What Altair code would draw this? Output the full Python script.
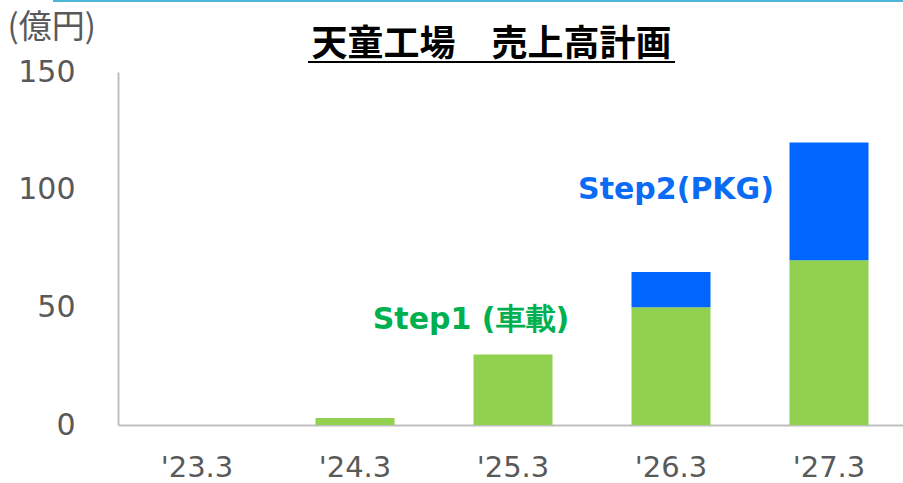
import altair as alt
import pandas as pd

years = ["'23.3", "'24.3", "'25.3", "'26.3", "'27.3"]
step1 = [0, 3, 30, 50, 70]
step2 = [0, 0, 0, 15, 50]
series_names = ["Step1", "Step2"]
series_colors = ["#92D050", "#0066FF"]

ann_text = ["Step1 (車載)", "Step2(PKG)"]
ann_year = ["'25.3", "'26.3"]
ann_value = [44.6, 100]
ann_color = ["#00B050", "#0A6CF5"]

title_text = "天童工場　売上高計画"
unit_text = "(億円)"

rows = []
for i, y in enumerate(years):
    rows.append({"year": y, "series": "Step1", "value": step1[i], "ord": 0})
    rows.append({"year": y, "series": "Step2", "value": step2[i], "ord": 1})
df = pd.DataFrame(rows)

ann = pd.DataFrame({"text": ann_text, "year": ann_year, "value": ann_value, "color": ann_color})

xscale = alt.Scale(domain=years, range=[0, 790], paddingInner=0.5, paddingOuter=0.25)
yscale = alt.Scale(domain=[0, 150])

bars = alt.Chart(df).mark_bar().encode(
    x=alt.X("year:N", sort=years, scale=xscale,
            axis=alt.Axis(title=None, labelAngle=0, ticks=False, labelPadding=28,
                          labelFontSize=29, labelFont="DejaVu Sans", labelColor="#595959",
                          domainColor="#BFBFBF", domainWidth=2)),
    y=alt.Y("value:Q", scale=yscale, stack="zero",
            axis=alt.Axis(values=[0, 50, 100, 150], grid=False, ticks=False, labelPadding=43,
                          labelFontSize=30, labelFont="DejaVu Sans", labelColor="#595959",
                          domainColor="#BFBFBF", domainWidth=2,
                          title=unit_text, titleAngle=0, titleAlign="left", titleBaseline="middle",
                          titleX=-111, titleY=-45, titleFont="Noto Sans CJK JP",
                          titleFontSize=33, titleFontWeight="normal", titleColor="#595959")),
    color=alt.Color("series:N", scale=alt.Scale(domain=series_names, range=series_colors), legend=None),
    order=alt.Order("ord:Q"),
)

texts1 = alt.Chart(ann.iloc[[0]]).mark_text(fontSize=30, font="DejaVu Sans", fontWeight="bold", dx=-42).encode(
    x=alt.X("year:N", sort=years, scale=xscale),
    y=alt.Y("value:Q", scale=yscale),
    text="text:N",
    color=alt.Color("color:N", scale=None),
)
texts2 = alt.Chart(ann.iloc[[1]]).mark_text(fontSize=30, font="DejaVu Sans", fontWeight="bold", dx=5).encode(
    x=alt.X("year:N", sort=years, scale=xscale),
    y=alt.Y("value:Q", scale=yscale),
    text="text:N",
    color=alt.Color("color:N", scale=None),
)

title = alt.Chart(alt.Data(values=[{"t": title_text}])).mark_text(
    fontSize=36, font="Noto Sans CJK JP", fontWeight="bold", color="black",
    align="center", baseline="alphabetic"
).encode(x=alt.value(373.5), y=alt.value(-16), text="t:N")

underline = alt.Chart(alt.Data(values=[{}])).mark_rule(color="black", strokeWidth=2).encode(
    x=alt.value(190), x2=alt.value(557), y=alt.value(-10)
)
topline = alt.Chart(alt.Data(values=[{}])).mark_rule(color="#4DB6D6", strokeWidth=2).encode(
    x=alt.value(-65), x2=alt.value(790), y=alt.value(-71)
)

chart = alt.layer(bars, texts1, texts2, title, underline, topline).properties(
    width=784, height=353,
    padding={"left": 118, "top": 72, "right": 1, "bottom": 58},
    autosize="none",
).configure_view(stroke=None)

chart.save("out.html", embed_options={"renderer": "svg", "actions": False})
